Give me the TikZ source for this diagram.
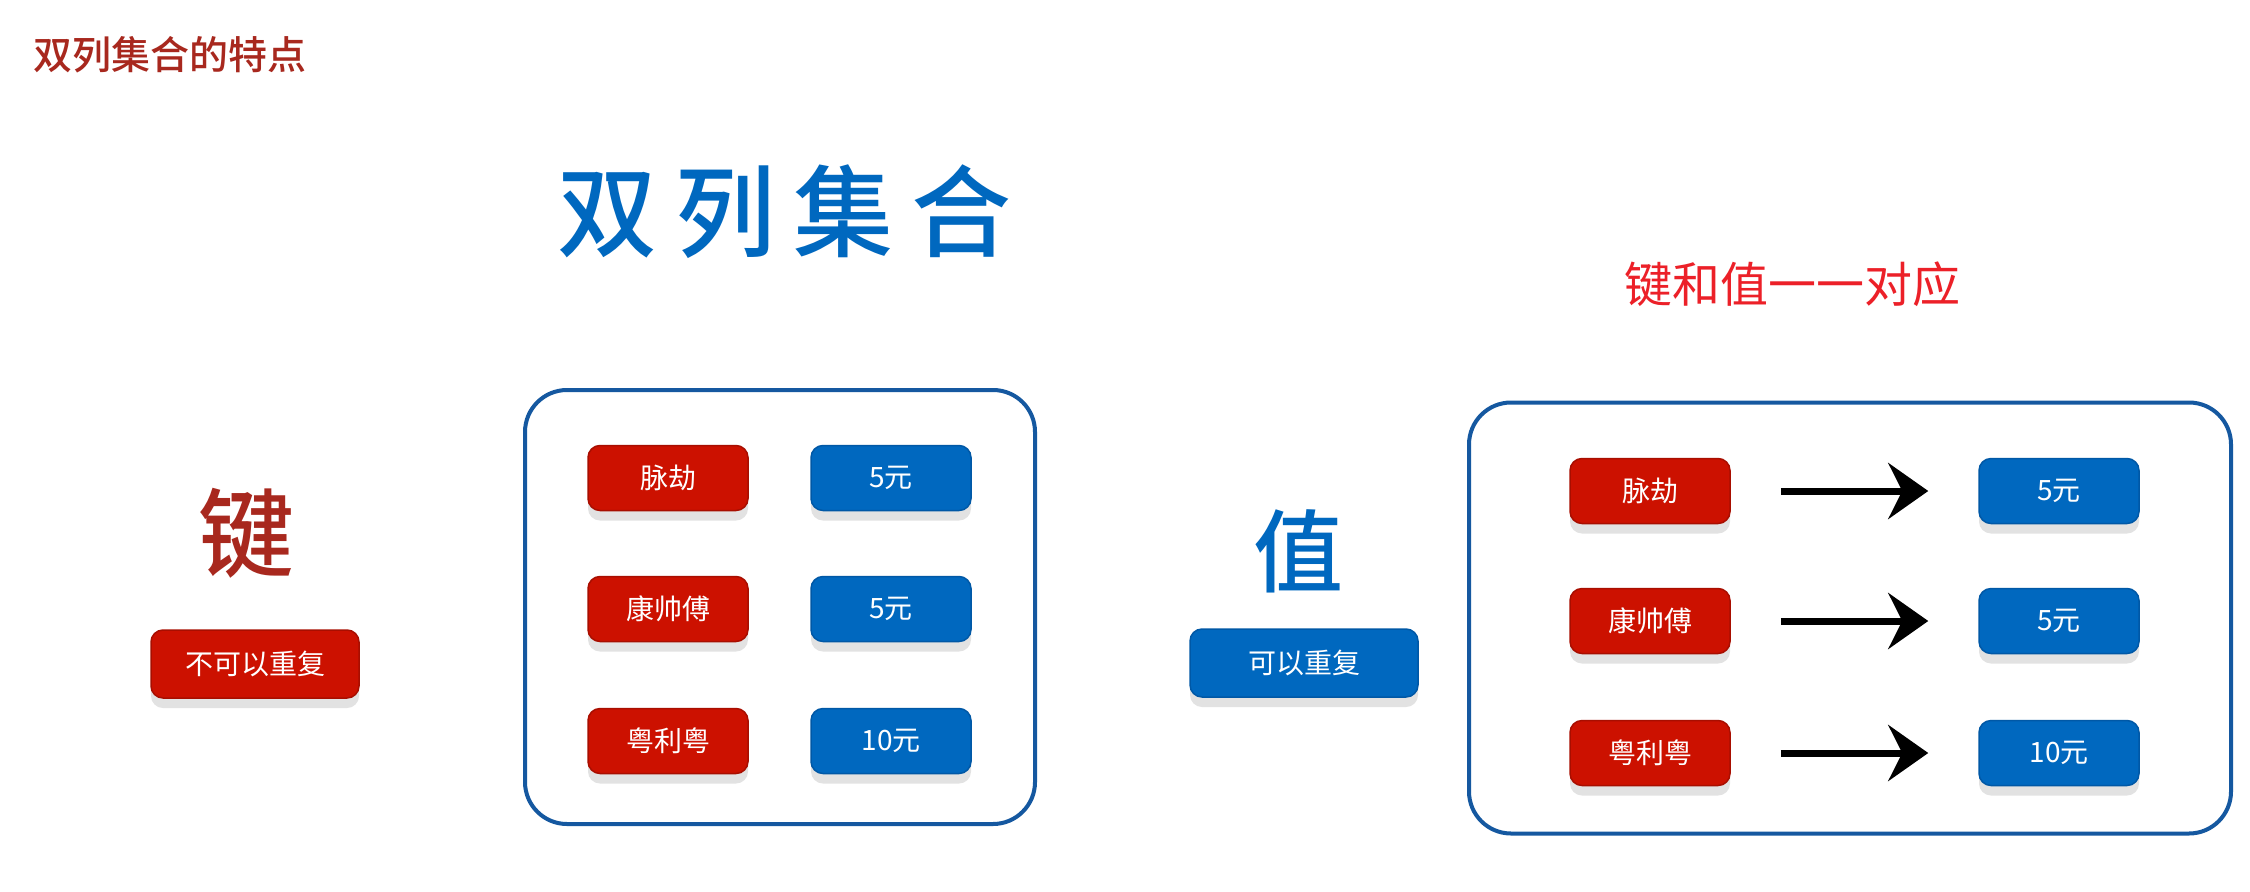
\documentclass[tikz,border=0pt]{standalone}
\usepackage{fontspec}
\setmainfont{Noto Sans CJK SC}
\newfontfamily\cjkb{Noto Sans CJK SC Bold}
\newfontfamily\cjkm{Noto Sans CJK SC Medium}
\newfontfamily\cjkwide[LetterSpace=18]{Noto Sans CJK SC Medium}
\usetikzlibrary{arrows.meta,shadows}
\definecolor{keyred}{HTML}{CC1100}
\definecolor{keyredb}{HTML}{A80E00}
\definecolor{valblue}{HTML}{0068BF}
\definecolor{valblueb}{HTML}{0058A6}
\definecolor{boxblue}{HTML}{1558A0}
\definecolor{titlered}{HTML}{A8281E}
\definecolor{notered}{HTML}{EC2028}
\definecolor{shade}{HTML}{E2E2E2}
\tikzset{
  btn/.style={rounded corners=12pt, minimum height=65pt, text=white,
    font=\fontsize{28}{30}\selectfont, line width=1.5pt,
    drop shadow={shadow xshift=0pt, shadow yshift=-10pt, fill=shade, opacity=1}},
  keybtn/.style={btn, fill=keyred, draw=keyredb, minimum width=160pt},
  valbtn/.style={btn, fill=valblue, draw=valblueb, minimum width=160pt},
  frame/.style={draw=boxblue, line width=4pt, rounded corners=42pt},
  maparrow/.style={line width=7pt, -{Stealth[length=40pt,width=56pt,inset=14pt]},
    shorten <=50pt, shorten >=50pt}
}
\begin{document}
\begin{tikzpicture}[x=1pt,y=-1pt]
\useasboundingbox[fill=white] (0,0) rectangle (2250,891);

\node[anchor=west, text=titlered, font=\cjkm\fontsize{39}{42}\selectfont] (title) at (30,55) {双列集合的特点};

\node[text=valblue, font=\cjkwide\fontsize{100}{110}\selectfont] (big) at (784,212) {双列集合};

\node[text=titlered, font=\cjkm\fontsize{96}{100}\selectfont] (jian) at (246,533) {键};
\node[keybtn, minimum width=208pt, minimum height=68pt] (nodup) at (255,664) {不可以重复};

\node[text=valblue, font=\cjkm\fontsize{90}{100}\selectfont] (zhi) at (1298,551) {值};
\node[valbtn, minimum width=228pt, minimum height=68pt] (dup) at (1304,663) {可以重复};

% left frame
\node[frame, minimum width=510pt, minimum height=434pt] (lframe) at (780,607) {};
\node[keybtn] (lk1) at (668,478) {脉劫};
\node[valbtn] (lv1) at (891,478) {5元};
\node[keybtn] (lk2) at (668,609) {康帅傅};
\node[valbtn] (lv2) at (891,609) {5元};
\node[keybtn] (lk3) at (668,741) {粤利粤};
\node[valbtn] (lv3) at (891,741) {10元};

% right
\node[text=notered, font=\fontsize{48}{52}\selectfont] (note) at (1792,284) {键和值一一对应};
\node[frame, minimum width=762pt, minimum height=431pt] (rframe) at (1850,618) {};
\node[keybtn] (rk1) at (1650,491) {脉劫};
\node[valbtn] (rv1) at (2059,491) {5元};
\node[keybtn] (rk2) at (1650,621) {康帅傅};
\node[valbtn] (rv2) at (2059,621) {5元};
\node[keybtn] (rk3) at (1650,753) {粤利粤};
\node[valbtn] (rv3) at (2059,753) {10元};
\draw[maparrow] (rk1) -- (rv1);
\draw[maparrow] (rk2) -- (rv2);
\draw[maparrow] (rk3) -- (rv3);
\end{tikzpicture}
\end{document}
